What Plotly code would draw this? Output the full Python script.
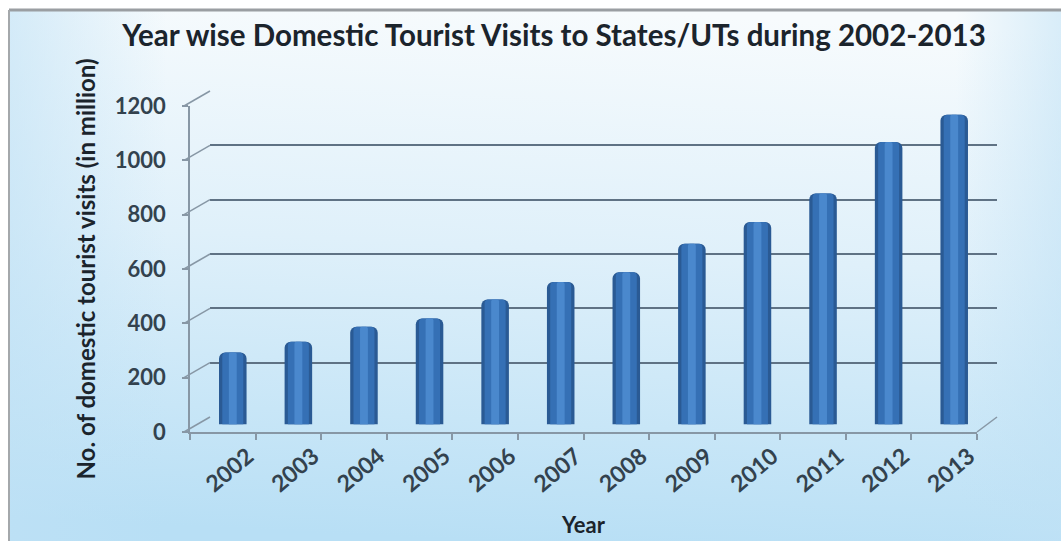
import base64
import plotly.graph_objects as go

# ---- data -------------------------------------------------------------
years = ["2002", "2003", "2004", "2005", "2006", "2007",
         "2008", "2009", "2010", "2011", "2012", "2013"]
visits = [265, 305, 360, 390, 460, 525, 560, 665, 745, 850, 1040, 1140]
y_ticks = [0, 200, 400, 600, 800, 1000, 1200]

title_text = "Year wise Domestic Tourist Visits to States/UTs during 2002-2013"
y_title = "No. of domestic tourist visits (in million)"
x_title = "Year"

# ---- geometry (page pixels) -----------------------------------------
W, H = 1061, 541
FX0, FX1 = 190, 977          # front plane, horizontal extent
FY0, FY1 = 432, 106          # front plane, pixel y of 0 and of 1200
DX, DY = 20, -15             # depth offset of the back wall
Y_MAX = 1200


def dom_x(x0, x1):
    return [x0 / W, x1 / W]


def dom_y(ybot, ytop):
    return [(H - ybot) / H, (H - ytop) / H]


def px_y(v, shift=0):
    """pixel row of value v on the front plane (shift moves toward back)"""
    return FY0 + (FY1 - FY0) * v / Y_MAX + shift


FONT = "Lato"
AXIS_GREY = "#8797a5"
GRID_GREY = "#5f7284"
TEXT_DARK = "#1b242c"

# background: soft blue gradient panel framed by a grey border
svg = (
    f'<svg xmlns="http://www.w3.org/2000/svg" width="{W}" height="{H}" '
    f'viewBox="0 0 {W} {H}" preserveAspectRatio="none">'
    '<defs><linearGradient id="g" x1="0.55" y1="0" x2="0.45" y2="1">'
    '<stop offset="0" stop-color="#f7fbfd"/>'
    '<stop offset="0.45" stop-color="#dff0fa"/>'
    '<stop offset="1" stop-color="#b8dff5"/>'
    '</linearGradient>'
    '<linearGradient id="s" x1="0" y1="0" x2="1" y2="0">'
    '<stop offset="0" stop-color="#bfe1f5" stop-opacity="0.6"/>'
    '<stop offset="0.15" stop-color="#bfe1f5" stop-opacity="0"/>'
    '<stop offset="0.9" stop-color="#bfe1f5" stop-opacity="0"/>'
    '<stop offset="1" stop-color="#bfe1f5" stop-opacity="0.55"/>'
    '</linearGradient></defs>'
    f'<rect x="0" y="0" width="{W}" height="{H}" fill="#ffffff"/>'
    f'<rect x="9" y="10" width="{W - 9}" height="{H - 10}" fill="url(#g)"/>'
    f'<rect x="9" y="10" width="{W - 9}" height="{H - 10}" fill="url(#s)"/>'
    '</svg>'
)
bg_uri = "data:image/svg+xml;base64," + base64.b64encode(svg.encode()).decode()

fig = go.Figure()

# cylinder-like columns: dark rim, mid body, light highlight
for width, color, radius in [(0.42, "#2a5a94", 6), (0.32, "#3570b5", 4), (0.12, "#4a88cd", 2)]:
    fig.add_trace(go.Bar(
        x=years, y=visits, width=width,
        marker=dict(color=color, line=dict(width=0), cornerradius=radius),
        xaxis="x3", yaxis="y3", hoverinfo="skip", showlegend=False,
    ))

# invisible traces carrying the front axes and the back wall
fig.add_trace(go.Bar(x=years, y=[0] * len(years), xaxis="x", yaxis="y",
                     showlegend=False, hoverinfo="skip", marker_color="rgba(0,0,0,0)"))
fig.add_trace(go.Bar(x=years, y=[0] * len(years), xaxis="x2", yaxis="y2",
                     showlegend=False, hoverinfo="skip", marker_color="rgba(0,0,0,0)"))

ytick_font = dict(family=FONT, size=22, color="#33424e", weight="bold")
xtick_font = dict(family=FONT, size=23, color="#33424e", weight="bold")

# connectors between the front axis ticks and the back wall grid
shapes = []
for v in y_ticks:
    yf = px_y(v)
    shapes.append(dict(type="line", xref="paper", yref="paper",
                       x0=(FX0 - 6) / W, y0=(H - yf) / H,
                       x1=(FX0 + DX) / W, y1=(H - (yf + DY)) / H,
                       line=dict(color=AXIS_GREY, width=1.5)))
# right edge of the floor
shapes.append(dict(type="line", xref="paper", yref="paper",
                   x0=FX1 / W, y0=(H - FY0) / H,
                   x1=(FX1 + DX) / W, y1=(H - (FY0 + DY)) / H,
                   line=dict(color=AXIS_GREY, width=1.5)))
# chart frame
shapes.append(dict(type="line", xref="paper", yref="paper",
                   x0=9 / W, y0=(H - 10) / H, x1=1, y1=(H - 10) / H,
                   line=dict(color="#9a9ea2", width=3)))
shapes.append(dict(type="line", xref="paper", yref="paper",
                   x0=9 / W, y0=0, x1=9 / W, y1=(H - 10) / H,
                   line=dict(color="#a4a8ab", width=2)))

fig.update_layout(
    template="none",
    width=W, height=H,
    margin=dict(l=0, r=0, t=0, b=0, autoexpand=False),
    paper_bgcolor="#cfeaf8", plot_bgcolor="rgba(0,0,0,0)",
    barmode="overlay",
    images=[dict(source=bg_uri, xref="paper", yref="paper", x=0, y=1,
                 sizex=1, sizey=1, sizing="stretch", layer="below",
                 xanchor="left", yanchor="top")],
    title=dict(text=title_text, x=554 / W, xanchor="center",
               y=1 - 36 / H, yanchor="middle", automargin=False,
               font=dict(family=FONT, size=29.5, color=TEXT_DARK, weight="bold")),
    # front plane: tick labels and axis lines
    xaxis=dict(domain=dom_x(FX0, FX1), anchor="y", type="category",
               automargin=False, showgrid=False, zeroline=False,
               showline=True, linecolor=AXIS_GREY, linewidth=2,
               ticks="outside", tickson="boundaries", ticklen=6,
               tickcolor=AXIS_GREY, tickwidth=1.5,
               tickangle=-40, ticklabelshift=25, tickfont=xtick_font,
               title=dict(text=x_title, standoff=22,
                          font=dict(family=FONT, size=22, color=TEXT_DARK, weight="bold"))),
    yaxis=dict(domain=dom_y(FY0, FY1), anchor="x", range=[0, Y_MAX],
               automargin=False,
               tickvals=y_ticks, showgrid=False, zeroline=False,
               showline=True, linecolor=AXIS_GREY, linewidth=1.5,
               ticks="outside", ticklen=6, tickcolor=AXIS_GREY, tickwidth=1.5,
               ticklabelstandoff=12, tickfont=ytick_font,
               title=dict(text=y_title, standoff=12,
                          font=dict(family=FONT, size=24, color=TEXT_DARK, weight="bold"))),
    # back wall: horizontal grid
    xaxis2=dict(domain=dom_x(FX0 + DX, FX1 + DX), anchor="y2", type="category",
                automargin=False, showgrid=False, showticklabels=False,
                zeroline=False, showline=False, ticks=""),
    yaxis2=dict(domain=dom_y(FY0 + DY, FY1 + DY), anchor="x2", range=[0, Y_MAX],
                automargin=False, tickvals=y_ticks, showticklabels=False, ticks="",
                showgrid=True, gridcolor=GRID_GREY, gridwidth=2,
                zeroline=False, showline=False),
    # column plane, halfway back
    xaxis3=dict(domain=dom_x(FX0 + DX / 2, FX1 + DX / 2), anchor="y3", type="category",
                automargin=False, visible=False),
    yaxis3=dict(domain=dom_y(FY0 + DY / 2, FY1 + DY / 2), anchor="x3",
                automargin=False, range=[0, Y_MAX], visible=False),
    shapes=shapes,
)

fig.write_html("out.html")
